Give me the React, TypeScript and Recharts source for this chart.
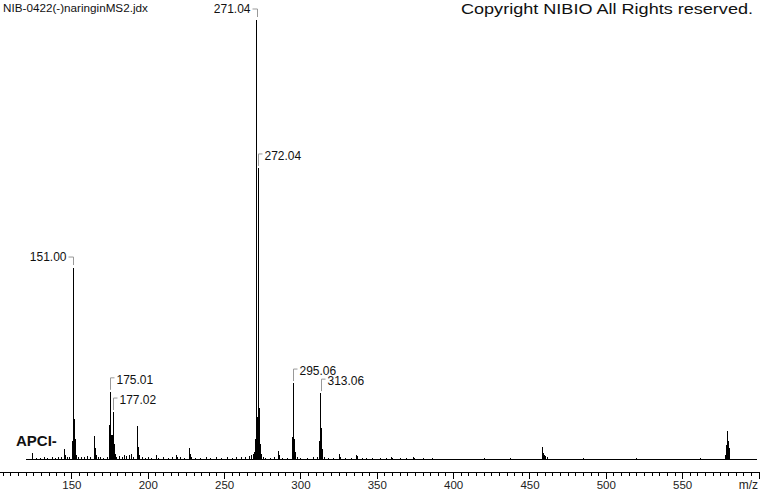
import React from 'react';
import { ComposedChart, Line, Scatter, XAxis, YAxis } from 'recharts';

const titleText = 'NIB-0422(-)naringinMS2.jdx';
const copyrightText = 'Copyright NIBIO All Rights reserved.';
const ionModeText = 'APCI-';
const xAxisTitle = 'm/z';

const majorTickValues = [150, 200, 250, 300, 350, 400, 450, 500, 550];

const labeledMz = [151.0, 175.01, 177.02, 271.04, 272.04, 295.06, 313.06];
const labeledIntensity = [435, 153, 107, 1000, 663, 173, 150];
const labeledText = ['151.00', '175.01', '177.02', '271.04', '272.04', '295.06', '313.06'];
const labelOnLeft = [true, false, false, true, false, false, false];

const minorPeaks: [number, number][] = [
  [124.5, 14], [127, 3], [129.5, 2], [132, 4], [134, 3], [137, 4], [139.5, 3], [141, 5], [143, 4],
  [145, 23], [145.6, 8], [147, 5], [148.5, 4], [150.3, 40], [151.6, 90], [152.1, 45], [153, 10],
  [154.5, 4], [156, 5], [158, 4], [160, 6], [162, 4], [164.6, 52], [165.3, 24], [166, 8], [167.5, 4],
  [169, 5], [171, 3], [173, 4], [174.3, 77], [175.6, 55], [176.4, 55], [177.6, 35], [178.3, 12],
  [179.5, 5], [181, 6], [183, 5], [184.5, 9], [186, 7], [187.5, 9], [189, 11], [190.5, 5],
  [193.1, 75], [193.7, 28], [194.5, 8], [196, 4], [198, 3], [200, 4], [202, 3], [205.5, 10],
  [207, 3], [210, 4], [213, 3], [216, 4], [218.6, 10], [219.3, 5], [221, 4], [224, 3], [226.7, 25],
  [227.4, 12], [228.5, 4], [231, 3], [234, 3], [238, 4], [241, 3], [245, 4], [248, 3], [252, 4],
  [255, 3], [258, 5], [261, 4], [264, 5], [266, 6], [267.5, 8], [268.6, 12], [269.5, 16],
  [270.3, 45], [271.6, 95], [272.6, 100], [273.1, 116], [273.6, 35], [274.4, 12], [275.5, 5],
  [277, 3], [280, 3], [283, 4], [285.2, 18], [285.8, 8], [288, 3], [291, 3], [294.4, 50],
  [295.7, 45], [296.3, 15], [297.5, 4], [300, 3], [304, 3], [308, 4], [311, 5], [312.4, 40],
  [313.7, 70], [314.3, 22], [315.5, 5], [318, 3], [321, 3], [325.1, 12], [325.8, 5], [329, 3],
  [333, 3], [336.5, 10], [337.3, 6], [340, 3], [343, 2], [347, 2], [352, 2], [356, 2], [359.4, 5],
  [360.2, 3], [365, 2], [369, 2], [373.6, 5], [374.4, 2], [380, 1.5], [386, 1.5], [395, 1],
  [410, 1], [420, 1.5], [437, 1.5], [450, 1], [458.3, 28], [459, 14], [459.7, 10], [460.4, 6],
  [461.2, 4], [485, 2], [500, 1], [520, 2], [545, 1], [562, 2], [577.9, 10], [578.6, 32],
  [579.2, 64], [579.8, 40], [580.4, 25], [581, 10],
];

const spectrumStart = 120;
const spectrumEnd = 599;
const xDomain: [number, number] = [102.9, 600];
const yDomain: [number, number] = [-29.6, 1000];

const FONT = '"Liberation Sans", Arial, sans-serif';

const allPeaks: [number, number][] = [
  ...labeledMz.map((mz, i) => [mz, labeledIntensity[i]] as [number, number]),
  ...minorPeaks,
].sort((a, b) => a[0] - b[0]);

const profile: { mz: number; intensity: number }[] = [{ mz: spectrumStart, intensity: 0 }];
allPeaks.forEach(([mz, h]) => {
  profile.push({ mz, intensity: 0 }, { mz, intensity: h }, { mz, intensity: 0 });
});
profile.push({ mz: spectrumEnd, intensity: 0 });

const labelData = labeledMz.map((mz, i) => ({
  mz,
  intensity: labeledIntensity[i],
  text: labeledText[i],
  left: labelOnLeft[i],
}));

const minorTicks: number[] = [];
for (let v = 105; v <= 600; v += 5) minorTicks.push(v);

const AxisTick = (props: any) => {
  const { x, y, payload } = props;
  const v = payload.value;
  const major = v % 50 === 0;
  const showLabel = majorTickValues.includes(v);
  return (
    <g>
      <line x1={x} x2={x} y1={y} y2={y + (major ? 7 : 4)} stroke="#000" shapeRendering="crispEdges" />
      {showLabel && (
        <text x={x} y={y + 17} textAnchor="middle" fontFamily={FONT} fontSize={11.5} fill="#222">
          {v}
        </text>
      )}
    </g>
  );
};

const PeakLabel = (props: any) => {
  const { cx, cy, payload } = props;
  if (cx == null || cy == null) return null;
  const x0 = Math.round(cx) + 0.5;
  if (payload.left) {
    const top = cy - 11;
    return (
      <g>
        <path d={`M${x0},${cy - 3} V${top} H${x0 - 5}`} stroke="#999" fill="none" />
        <text x={x0 - 7} y={top + 3.5} textAnchor="end" fontFamily={FONT} fontSize={12} fill="#111">
          {payload.text}
        </text>
      </g>
    );
  }
  const top = cy - 14;
  return (
    <g>
      <path d={`M${x0},${cy - 2} V${top} H${x0 + 4}`} stroke="#999" fill="none" />
      <text x={x0 + 6} y={top + 6} textAnchor="start" fontFamily={FONT} fontSize={12} fill="#111">
        {payload.text}
      </text>
    </g>
  );
};

export default function App() {
  return (
    <div style={{ position: 'absolute', left: 0, top: 0, width: 760, height: 492, background: '#fff' }}>
      <ComposedChart width={760} height={492} margin={{ top: 20, right: 1, bottom: 0, left: 0 }}>
        <XAxis
          type="number"
          dataKey="mz"
          domain={xDomain}
          ticks={minorTicks}
          interval={0}
          tick={<AxisTick />}
          tickLine={false}
          tickSize={0}
          tickMargin={0}
          axisLine={{ stroke: '#000', shapeRendering: 'crispEdges' }}
          height={20}
        />
        <YAxis type="number" dataKey="intensity" domain={yDomain} hide />
        <Line
          data={profile}
          dataKey="intensity"
          type="linear"
          stroke="#000"
          strokeWidth={1}
          dot={false}
          activeDot={false}
          isAnimationActive={false}
          shapeRendering="crispEdges"
        />
        <Scatter data={labelData} dataKey="intensity" shape={<PeakLabel />} isAnimationActive={false} />
      </ComposedChart>
      <svg width={760} height={492} style={{ position: 'absolute', left: 0, top: 0, pointerEvents: 'none' }}>
        <text x={3} y={12} fontFamily={FONT} fontSize={11.7} fill="#111">
          {titleText}
        </text>
        <text
          x={461}
          y={13.5}
          fontFamily={FONT}
          fontSize={15.5}
          fill="#111"
          textLength={292}
          lengthAdjust="spacingAndGlyphs"
        >
          {copyrightText}
        </text>
        <text x={16} y={446} fontFamily={FONT} fontSize={15} fontWeight="bold" fill="#111">
          {ionModeText}
        </text>
        <text x={758} y={489} textAnchor="end" fontFamily={FONT} fontSize={12} fill="#222">
          {xAxisTitle}
        </text>
      </svg>
    </div>
  );
}
